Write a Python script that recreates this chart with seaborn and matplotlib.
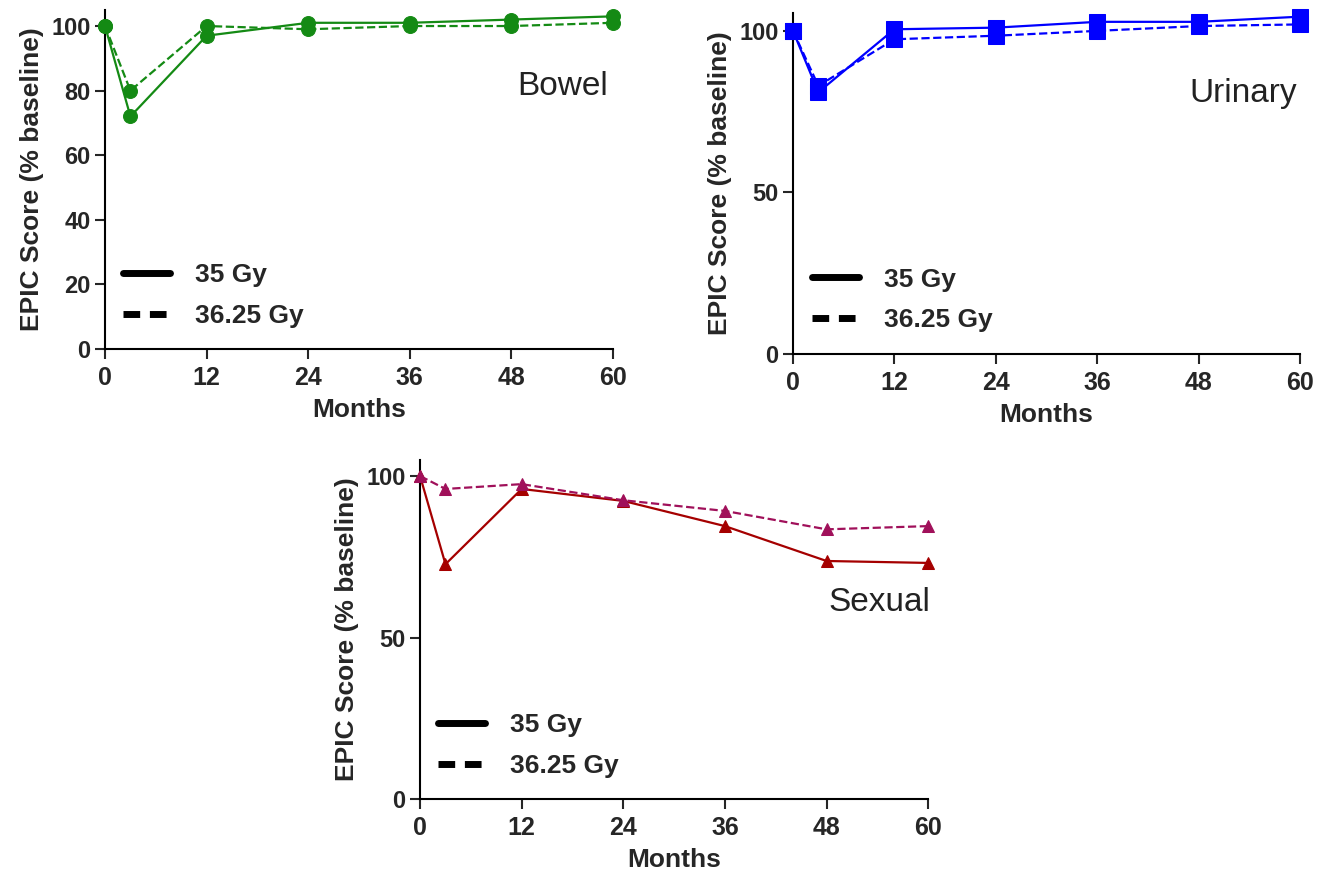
import matplotlib
matplotlib.use("Agg")
import matplotlib.pyplot as plt
import seaborn as sns
from matplotlib.lines import Line2D

sns.set_style("ticks")
plt.rcParams['font.family'] = ['Liberation Sans', 'DejaVu Sans']

months = [0, 3, 12, 24, 36, 48, 60]
bowel_35 = [100, 72, 97, 101, 101, 102, 103]
bowel_3625 = [100, 80, 100, 99, 100, 100, 101]
urinary_35 = [100, 81, 100.5, 101, 102.8, 102.8, 104.4]
urinary_3625 = [100, 83, 97.4, 98.5, 100, 101.5, 102]
sexual_35 = [100, 72.7, 96, 92.3, 84.5, 73.7, 73.1]
sexual_3625 = [100, 96, 97.5, 92.5, 89.2, 83.5, 84.5]
xticks = [0, 12, 24, 36, 48, 60]
legend_labels = ["35 Gy", "36.25 Gy"]

fig = plt.figure(figsize=(13.21, 8.74), dpi=100)

panels = [
    dict(rect=[0.0795, 0.6007, 0.3846, 0.388], title="Bowel", s=bowel_35, d=bowel_3625,
         cs='#148a14', cd='#148a14', marker='o', ms=10, yticks=[0, 20, 40, 60, 80, 100],
         ylim=105, tpos=(0.90, 0.775), legx=0.035),
    dict(rect=[0.6003, 0.595, 0.3838, 0.390], title="Urinary", s=urinary_35, d=urinary_3625,
         cs='#0000ff', cd='#0000ff', marker='s', ms=11, yticks=[0, 50, 100],
         ylim=105.5, tpos=(0.888, 0.765), legx=0.037),
    dict(rect=[0.318, 0.0858, 0.3846, 0.388], title="Sexual", s=sexual_35, d=sexual_3625,
         cs='#a50000', cd='#a0105a', marker='^', ms=9, yticks=[0, 50, 100],
         ylim=105, tpos=(0.905, 0.58), legx=0.035),
]

for p in panels:
    ax = fig.add_axes(p['rect'])
    sns.lineplot(x=months, y=p['s'], ax=ax, color=p['cs'], marker=p['marker'],
                 markersize=p['ms'], markeredgecolor=p['cs'], linewidth=1.6,
                 linestyle='-', clip_on=False, zorder=3)
    sns.lineplot(x=months, y=p['d'], ax=ax, color=p['cd'], marker=p['marker'],
                 markersize=p['ms'], markeredgecolor=p['cd'], linewidth=1.6,
                 linestyle='--', clip_on=False, zorder=3)
    ax.set_xlim(0, 60)
    ax.set_ylim(0, p['ylim'])
    ax.set_xticks(xticks)
    ax.set_yticks(p['yticks'])
    ax.tick_params(axis='x', direction='out', length=7, width=1.5, labelsize=18, pad=5)
    ax.tick_params(axis='y', direction='out', length=7, width=1.5, labelsize=17, pad=3.5)
    for lab in ax.get_xticklabels() + ax.get_yticklabels():
        lab.set_fontweight('bold')
    for side in ['left', 'bottom']:
        ax.spines[side].set_linewidth(1.5)
        ax.spines[side].set_color('black')
    sns.despine(ax=ax)
    ax.set_xlabel("Months", fontsize=19, fontweight='bold', labelpad=6)
    ax.set_ylabel("EPIC Score (% baseline)", fontsize=19, fontweight='bold', labelpad=5)
    ax.text(p['tpos'][0], p['tpos'][1], p['title'], transform=ax.transAxes,
            fontsize=24, ha='center', va='center', color='#222222')
    handles = [Line2D([0], [0], color='black', lw=5, linestyle='-'),
               Line2D([0], [0], color='black', lw=5, linestyle=(0, (2.4, 1.4)))]
    leg = ax.legend(handles, legend_labels, loc='upper left', frameon=False,
                    bbox_to_anchor=(p['legx'], 0.253), borderaxespad=0, borderpad=0,
                    fontsize=19, handlelength=1.8, handletextpad=0.95, labelspacing=0.63)
    for t in leg.get_texts():
        t.set_fontweight('bold')

fig.savefig("out.png", dpi=100)
